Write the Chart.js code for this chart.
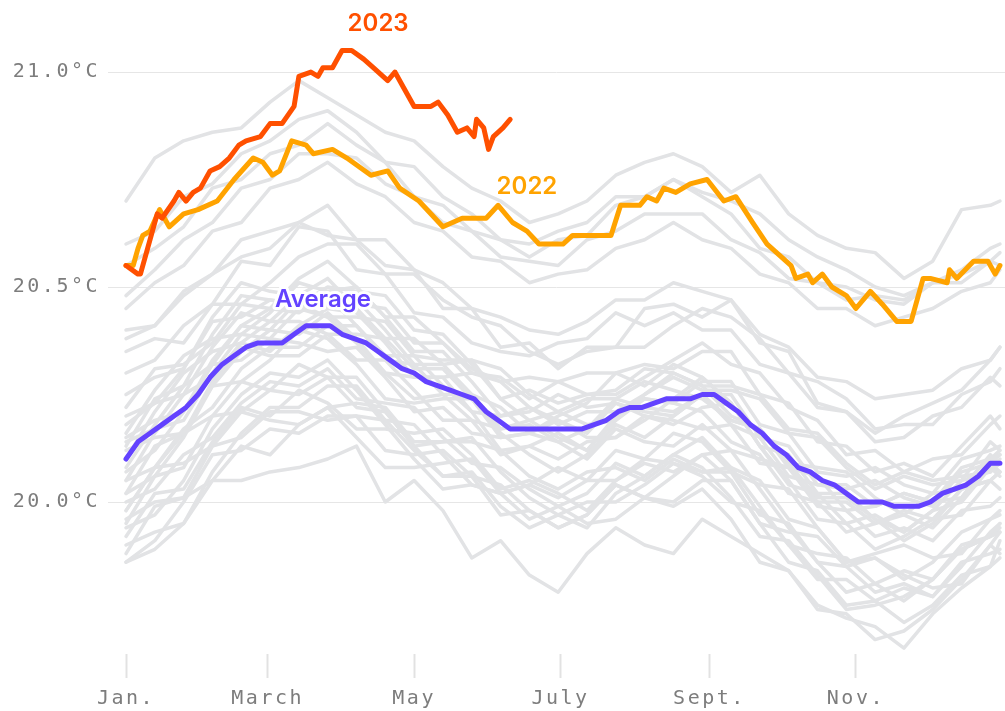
<!DOCTYPE html>
<html>
<head>
<meta charset="utf-8">
<script src="https://cdn.jsdelivr.net/npm/chart.js@4.4.1/dist/chart.umd.min.js"></script>
<style>
    html, body { margin: 0; padding: 0; background: #ffffff; }
    canvas { display: block; }
</style>
</head>
<body>
<canvas id="temperaturaChart" width="1005" height="711"></canvas>
<script>

// day of year for the x axis ticks
const mesesDias = [0, 59, 120, 181, 243, 304];
const mesesNombres = ["Jan.", "March", "May", "July", "Sept.", "Nov."];

const yTicks = [20.0, 20.5, 21.0];

// 2023 so far
const dias2023 = [0, 5, 6, 9, 11, 13, 15, 20, 22, 25, 28, 31, 35, 39, 43, 47, 50, 56, 60, 65,
    70, 72, 77, 80, 82, 86, 89, 90, 94, 99, 103, 109, 112, 115, 120, 127, 130, 134, 138, 142,
    145, 146, 149, 151, 153, 157, 160];
const temp2023 = [20.55, 20.53, 20.53, 20.59, 20.63, 20.67, 20.66, 20.70, 20.72, 20.70,
    20.72, 20.73, 20.77, 20.78, 20.80, 20.83, 20.84, 20.85, 20.88, 20.88,
    20.92, 20.99, 21.00, 20.99, 21.01, 21.01, 21.04, 21.05, 21.05, 21.03,
    21.01, 20.98, 21.00, 20.97, 20.92, 20.92, 20.93, 20.90, 20.86, 20.87,
    20.85, 20.89, 20.87, 20.82, 20.85, 20.87, 20.89];

// 2022
const dias2022 = [0, 3, 5, 7, 10, 14, 18, 24, 30, 38, 45, 53, 57, 61, 64, 69, 75, 78, 86, 92,
    102, 109, 114, 122, 132, 140, 150, 155, 161, 167, 172, 182, 186, 202, 206, 214, 217, 221, 224, 229,
    235, 242, 249, 254, 261, 267, 277, 279, 284, 286, 290, 294, 300, 304, 310, 315, 321, 327, 332, 335,
    342, 343, 346, 353, 359, 362, 364];
const temp2022 = [20.55, 20.55, 20.59, 20.62, 20.63, 20.68, 20.64, 20.67, 20.68, 20.70,
    20.75, 20.80, 20.79, 20.76, 20.77, 20.84, 20.83, 20.81, 20.82, 20.80,
    20.76, 20.77, 20.73, 20.70, 20.64, 20.66, 20.66, 20.69, 20.65, 20.63,
    20.60, 20.60, 20.62, 20.62, 20.69, 20.69, 20.71, 20.70, 20.73, 20.72,
    20.74, 20.75, 20.70, 20.71, 20.65, 20.60, 20.55, 20.52, 20.53, 20.51,
    20.53, 20.50, 20.48, 20.45, 20.49, 20.46, 20.42, 20.42, 20.52, 20.52,
    20.51, 20.54, 20.52, 20.56, 20.56, 20.53, 20.55];

// average
const diasPromedio = [0, 5, 10, 15, 20, 25, 30, 35, 40, 45, 50, 55, 60, 65, 70, 75, 80, 85, 90, 95,
    100, 105, 110, 115, 120, 125, 130, 135, 140, 145, 150, 155, 160, 165, 170, 175, 180, 185, 190, 195,
    200, 205, 210, 215, 220, 225, 230, 235, 240, 245, 250, 255, 260, 265, 270, 275, 280, 285, 290, 295,
    300, 305, 310, 315, 320, 325, 330, 335, 340, 345, 350, 355, 360, 364];
const tempPromedio = [20.10, 20.14, 20.16, 20.18, 20.20, 20.22, 20.25, 20.29, 20.32, 20.34,
    20.36, 20.37, 20.37, 20.37, 20.39, 20.41, 20.41, 20.41, 20.39, 20.38,
    20.37, 20.35, 20.33, 20.31, 20.30, 20.28, 20.27, 20.26, 20.25, 20.24,
    20.21, 20.19, 20.17, 20.17, 20.17, 20.17, 20.17, 20.17, 20.17, 20.18,
    20.19, 20.21, 20.22, 20.22, 20.23, 20.24, 20.24, 20.24, 20.25, 20.25,
    20.23, 20.21, 20.18, 20.16, 20.13, 20.11, 20.08, 20.07, 20.05, 20.04,
    20.02, 20.00, 20.00, 20.00, 19.99, 19.99, 19.99, 20.00, 20.02, 20.03,
    20.04, 20.06, 20.09, 20.09];

// earlier years (grey), sampled every 12 days
const diasGris = [0, 12, 24, 36, 48, 60, 72, 84, 96, 108, 120, 132, 144, 156, 168, 180,
    192, 204, 216, 228, 240, 252, 264, 276, 288, 300, 312, 324, 336, 348, 360, 364];

const aniosGris = [
    [20.70, 20.80, 20.84, 20.86, 20.87, 20.93, 20.98, 20.94, 20.90, 20.86, 20.84, 20.78, 20.73, 20.70, 20.65, 20.67, 20.70, 20.76, 20.79, 20.81, 20.78, 20.72, 20.76, 20.67, 20.62, 20.59, 20.58, 20.52, 20.56, 20.68, 20.69, 20.70],
    [20.60, 20.63, 20.71, 20.74, 20.81, 20.84, 20.89, 20.91, 20.86, 20.79, 20.78, 20.71, 20.67, 20.61, 20.60, 20.63, 20.65, 20.71, 20.71, 20.75, 20.72, 20.70, 20.67, 20.61, 20.57, 20.54, 20.50, 20.48, 20.51, 20.53, 20.56, 20.58],
    [20.55, 20.59, 20.64, 20.73, 20.75, 20.81, 20.83, 20.88, 20.83, 20.79, 20.71, 20.69, 20.63, 20.61, 20.57, 20.61, 20.62, 20.69, 20.71, 20.75, 20.71, 20.67, 20.59, 20.57, 20.51, 20.50, 20.47, 20.46, 20.51, 20.54, 20.59, 20.60],
    [20.48, 20.54, 20.61, 20.65, 20.73, 20.75, 20.81, 20.81, 20.80, 20.74, 20.71, 20.65, 20.63, 20.57, 20.56, 20.55, 20.61, 20.63, 20.67, 20.67, 20.67, 20.61, 20.58, 20.52, 20.51, 20.47, 20.48, 20.47, 20.51, 20.51, 20.56, 20.55],
    [20.45, 20.51, 20.55, 20.63, 20.65, 20.73, 20.75, 20.79, 20.74, 20.71, 20.65, 20.63, 20.57, 20.56, 20.51, 20.53, 20.54, 20.59, 20.61, 20.65, 20.61, 20.59, 20.53, 20.51, 20.45, 20.45, 20.41, 20.43, 20.45, 20.49, 20.51, 20.54],
    [20.38, 20.41, 20.48, 20.53, 20.61, 20.63, 20.65, 20.69, 20.61, 20.61, 20.54, 20.51, 20.45, 20.43, 20.40, 20.39, 20.42, 20.47, 20.47, 20.51, 20.49, 20.47, 20.39, 20.36, 20.29, 20.28, 20.24, 20.25, 20.26, 20.31, 20.33, 20.36],
    [20.40, 20.41, 20.49, 20.53, 20.57, 20.59, 20.65, 20.62, 20.61, 20.55, 20.54, 20.45, 20.45, 20.36, 20.37, 20.31, 20.36, 20.36, 20.45, 20.46, 20.43, 20.47, 20.37, 20.35, 20.23, 20.21, 20.16, 20.20, 20.23, 20.26, 20.33, 20.36],
    [20.35, 20.38, 20.37, 20.46, 20.46, 20.51, 20.57, 20.60, 20.60, 20.53, 20.53, 20.47, 20.43, 20.41, 20.35, 20.32, 20.35, 20.36, 20.36, 20.41, 20.45, 20.43, 20.38, 20.30, 20.28, 20.24, 20.17, 20.18, 20.18, 20.25, 20.28, 20.31],
    [20.30, 20.33, 20.41, 20.46, 20.56, 20.55, 20.64, 20.63, 20.54, 20.53, 20.44, 20.43, 20.37, 20.35, 20.34, 20.37, 20.38, 20.44, 20.41, 20.44, 20.40, 20.40, 20.32, 20.30, 20.22, 20.21, 20.14, 20.15, 20.20, 20.22, 20.29, 20.27],
    [20.18, 20.23, 20.31, 20.42, 20.43, 20.47, 20.46, 20.50, 20.49, 20.48, 20.40, 20.39, 20.32, 20.24, 20.26, 20.23, 20.25, 20.25, 20.29, 20.33, 20.37, 20.32, 20.30, 20.22, 20.19, 20.11, 20.12, 20.07, 20.10, 20.11, 20.18, 20.20],
    [20.15, 20.19, 20.21, 20.33, 20.41, 20.45, 20.44, 20.48, 20.41, 20.34, 20.34, 20.33, 20.33, 20.24, 20.19, 20.21, 20.18, 20.19, 20.25, 20.29, 20.26, 20.26, 20.24, 20.16, 20.15, 20.08, 20.03, 20.06, 20.04, 20.05, 20.14, 20.12],
    [20.10, 20.21, 20.30, 20.35, 20.37, 20.35, 20.41, 20.45, 20.44, 20.37, 20.29, 20.29, 20.21, 20.20, 20.21, 20.25, 20.22, 20.23, 20.21, 20.20, 20.25, 20.25, 20.15, 20.13, 20.04, 20.03, 20.05, 20.01, 19.99, 20.07, 20.09, 20.11],
    [20.07, 20.12, 20.21, 20.32, 20.33, 20.38, 20.45, 20.43, 20.37, 20.30, 20.24, 20.25, 20.25, 20.22, 20.16, 20.14, 20.17, 20.24, 20.28, 20.26, 20.24, 20.19, 20.17, 20.09, 20.01, 20.01, 19.96, 19.93, 19.98, 20.00, 20.08, 20.06],
    [20.22, 20.31, 20.32, 20.37, 20.46, 20.45, 20.52, 20.56, 20.50, 20.43, 20.43, 20.37, 20.31, 20.28, 20.29, 20.28, 20.30, 20.30, 20.32, 20.31, 20.35, 20.35, 20.25, 20.23, 20.14, 20.13, 20.07, 20.09, 20.06, 20.13, 20.20, 20.17],
    [20.02, 20.13, 20.16, 20.28, 20.36, 20.34, 20.34, 20.39, 20.33, 20.33, 20.32, 20.25, 20.19, 20.11, 20.13, 20.10, 20.14, 20.15, 20.20, 20.19, 20.17, 20.18, 20.09, 20.08, 20.00, 20.00, 19.95, 19.98, 19.96, 19.97, 20.05, 20.03],
    [20.13, 20.24, 20.27, 20.39, 20.48, 20.47, 20.46, 20.43, 20.43, 20.42, 20.34, 20.27, 20.21, 20.12, 20.13, 20.16, 20.12, 20.19, 20.24, 20.23, 20.28, 20.28, 20.18, 20.16, 20.07, 20.06, 20.08, 20.04, 20.02, 20.10, 20.12, 20.13],
    [19.98, 20.08, 20.17, 20.22, 20.31, 20.36, 20.36, 20.41, 20.41, 20.33, 20.26, 20.19, 20.19, 20.17, 20.18, 20.14, 20.10, 20.17, 20.14, 20.13, 20.18, 20.12, 20.10, 20.08, 19.99, 19.98, 19.92, 19.94, 19.91, 19.98, 19.99, 20.01],
    [20.20, 20.23, 20.25, 20.29, 20.37, 20.42, 20.42, 20.39, 20.39, 20.38, 20.38, 20.32, 20.33, 20.31, 20.25, 20.21, 20.24, 20.24, 20.22, 20.21, 20.25, 20.18, 20.15, 20.06, 20.04, 20.04, 19.99, 20.02, 20.00, 20.01, 20.10, 20.11],
    [20.05, 20.16, 20.25, 20.36, 20.44, 20.42, 20.48, 20.52, 20.45, 20.38, 20.31, 20.31, 20.24, 20.16, 20.11, 20.07, 20.11, 20.18, 20.15, 20.20, 20.25, 20.19, 20.17, 20.09, 20.08, 20.07, 20.01, 19.97, 20.02, 20.03, 20.05, 20.07],
    [20.12, 20.15, 20.16, 20.27, 20.28, 20.33, 20.40, 20.38, 20.32, 20.24, 20.23, 20.24, 20.24, 20.15, 20.16, 20.20, 20.23, 20.30, 20.27, 20.32, 20.29, 20.23, 20.13, 20.11, 20.02, 19.95, 19.97, 19.93, 19.98, 20.05, 20.07, 20.09],
    [20.25, 20.29, 20.31, 20.43, 20.51, 20.49, 20.48, 20.46, 20.47, 20.40, 20.32, 20.32, 20.25, 20.17, 20.19, 20.15, 20.12, 20.20, 20.24, 20.23, 20.21, 20.14, 20.11, 20.02, 20.00, 19.93, 19.95, 19.97, 19.94, 20.01, 20.09, 20.07],
    [19.95, 20.06, 20.15, 20.27, 20.35, 20.40, 20.47, 20.45, 20.46, 20.45, 20.37, 20.37, 20.30, 20.28, 20.22, 20.18, 20.21, 20.21, 20.25, 20.30, 20.27, 20.27, 20.25, 20.17, 20.16, 20.09, 20.04, 20.07, 20.05, 20.06, 20.07, 20.10],
    [20.16, 20.26, 20.34, 20.38, 20.39, 20.38, 20.37, 20.35, 20.36, 20.29, 20.21, 20.22, 20.16, 20.15, 20.16, 20.19, 20.15, 20.15, 20.19, 20.24, 20.29, 20.23, 20.13, 20.05, 19.96, 19.95, 19.89, 19.92, 19.96, 20.03, 20.11, 20.09],
    [20.08, 20.18, 20.27, 20.32, 20.41, 20.40, 20.39, 20.44, 20.38, 20.30, 20.29, 20.29, 20.30, 20.29, 20.24, 20.28, 20.25, 20.26, 20.31, 20.30, 20.27, 20.20, 20.17, 20.08, 20.06, 19.98, 19.99, 20.02, 20.00, 20.08, 20.10, 20.12],
    [20.14, 20.17, 20.19, 20.30, 20.39, 20.44, 20.51, 20.49, 20.50, 20.43, 20.35, 20.35, 20.28, 20.20, 20.22, 20.19, 20.16, 20.23, 20.20, 20.18, 20.22, 20.23, 20.13, 20.04, 20.02, 20.02, 19.96, 19.91, 19.95, 20.03, 20.05, 20.07],
    [20.00, 20.03, 20.11, 20.15, 20.23, 20.28, 20.27, 20.31, 20.24, 20.23, 20.22, 20.15, 20.09, 20.08, 20.03, 19.99, 20.02, 20.09, 20.06, 20.11, 20.15, 20.08, 20.05, 19.96, 19.94, 19.86, 19.87, 19.82, 19.86, 19.93, 19.96, 19.97],
    [19.92, 20.02, 20.03, 20.14, 20.22, 20.20, 20.26, 20.23, 20.17, 20.17, 20.16, 20.17, 20.11, 20.03, 20.05, 20.02, 19.98, 20.05, 20.10, 20.09, 20.07, 20.08, 19.99, 19.90, 19.88, 19.87, 19.81, 19.77, 19.82, 19.89, 19.92, 19.93],
    [19.88, 19.99, 20.01, 20.13, 20.15, 20.21, 20.21, 20.19, 20.20, 20.19, 20.12, 20.06, 20.07, 19.99, 19.94, 19.97, 20.00, 20.00, 20.04, 20.09, 20.06, 20.00, 19.98, 19.90, 19.82, 19.82, 19.77, 19.80, 19.78, 19.86, 19.88, 19.89],
    [19.86, 19.89, 19.95, 20.05, 20.05, 20.07, 20.08, 20.10, 20.13, 20.00, 20.05, 19.98, 19.87, 19.91, 19.83, 19.79, 19.88, 19.94, 19.90, 19.88, 19.96, 19.92, 19.88, 19.84, 19.76, 19.73, 19.71, 19.66, 19.74, 19.80, 19.85, 19.91],
    [19.86, 19.91, 20.00, 20.11, 20.12, 20.17, 20.16, 20.20, 20.20, 20.12, 20.11, 20.12, 20.06, 19.97, 19.98, 19.94, 19.97, 20.04, 20.01, 20.00, 20.05, 20.05, 19.95, 19.86, 19.84, 19.76, 19.77, 19.72, 19.76, 19.83, 19.85, 19.87],
    [20.02, 20.06, 20.08, 20.20, 20.28, 20.26, 20.25, 20.29, 20.29, 20.21, 20.13, 20.14, 20.14, 20.12, 20.06, 20.03, 20.07, 20.08, 20.05, 20.10, 20.07, 20.07, 20.04, 20.03, 19.94, 19.86, 19.88, 19.90, 19.87, 19.88, 19.96, 19.98],
    [19.94, 19.97, 20.05, 20.17, 20.25, 20.30, 20.29, 20.33, 20.26, 20.18, 20.10, 20.03, 20.04, 20.02, 20.04, 20.01, 20.05, 20.12, 20.10, 20.16, 20.14, 20.07, 19.97, 19.95, 19.86, 19.79, 19.81, 19.84, 19.82, 19.90, 19.92, 19.94],
    [19.98, 20.08, 20.09, 20.13, 20.21, 20.19, 20.18, 20.22, 20.15, 20.08, 20.08, 20.09, 20.10, 20.02, 20.04, 20.08, 20.05, 20.05, 20.09, 20.07, 20.11, 20.12, 20.03, 19.94, 19.86, 19.85, 19.79, 19.81, 19.78, 19.85, 19.93, 19.95],
    [19.90, 19.93, 19.95, 20.07, 20.16, 20.22, 20.22, 20.27, 20.27, 20.19, 20.18, 20.11, 20.04, 20.02, 19.96, 19.99, 19.95, 19.96, 20.01, 20.06, 20.11, 20.05, 19.95, 19.93, 19.92, 19.85, 19.87, 19.83, 19.80, 19.81, 19.90, 19.88],
    [20.05, 20.08, 20.16, 20.20, 20.21, 20.26, 20.32, 20.29, 20.22, 20.21, 20.13, 20.06, 20.06, 20.04, 19.98, 19.94, 19.97, 20.04, 20.01, 19.99, 20.03, 19.96, 19.86, 19.84, 19.75, 19.74, 19.68, 19.70, 19.75, 19.82, 19.90, 19.93],
    [19.96, 20.00, 20.01, 20.05, 20.13, 20.11, 20.18, 20.22, 20.23, 20.22, 20.14, 20.14, 20.15, 20.07, 20.01, 19.97, 19.94, 20.02, 20.06, 20.11, 20.08, 20.01, 19.92, 19.91, 19.83, 19.75, 19.76, 19.78, 19.82, 19.89, 19.92, 19.95]
];


const color2023 = "#ff5000";
const color2022 = "#ffa300";
const colorPromedio = "#6342ff";
const colorGris = "#e2e3e5";

const fuenteEjes = "'DejaVu Sans Mono', monospace";
const fuenteEtiquetas = "Inter, 'Noto Sans', sans-serif";


function puntos(dias, temps) {
    return temps.map((t, i) => ({ x: dias[i], y: t }));
}


// texto de las series (2023, 2022, Average) con halo blanco
const etiquetasPlugin = {
    id: "etiquetas",
    beforeDraw(chart) {
        chart.ctx.letterSpacing = "2.5px";
    },
    afterDatasetsDraw(chart) {

        const ctx = chart.ctx;
        const x = chart.scales.x;
        const y = chart.scales.y;

        const etiquetas = [
            { texto: "2023", dia: 105, temp: 21.112, color: color2023 },
            { texto: "2022", dia: 167, temp: 20.733, color: color2022 },
            { texto: "Average", dia: 82, temp: 20.47, color: colorPromedio }
        ];

        ctx.save();
        ctx.letterSpacing = "0px";
        ctx.font = "600 24px " + fuenteEtiquetas;
        ctx.textAlign = "center";
        ctx.textBaseline = "middle";
        ctx.lineJoin = "round";

        etiquetas.forEach(e => {

            const px = x.getPixelForValue(e.dia);
            const py = y.getPixelForValue(e.temp);

            ctx.strokeStyle = "#ffffff";
            ctx.lineWidth = 6;
            ctx.strokeText(e.texto, px, py);

            ctx.fillStyle = e.color;
            ctx.fillText(e.texto, px, py);
        });

        ctx.restore();
    },
    afterDraw(chart) {
        chart.ctx.letterSpacing = "0px";
    }
};


const datasets = [

    {
        label: "2023",
        data: puntos(dias2023, temp2023),
        borderColor: color2023,
        borderWidth: 5,
        order: 0
    },

    {
        label: "2022",
        data: puntos(dias2022, temp2022),
        borderColor: color2022,
        borderWidth: 5,
        order: 1
    },

    {
        label: "Average",
        data: puntos(diasPromedio, tempPromedio),
        borderColor: colorPromedio,
        borderWidth: 5,
        order: 2
    }
];

aniosGris.forEach((temps, i) => {
    datasets.push({
        label: "gris" + i,
        data: puntos(diasGris, temps),
        borderColor: colorGris,
        borderWidth: 3.5,
        order: 3
    });
});


new Chart(document.getElementById("temperaturaChart"), {

    type: "line",

    data: {
        datasets: datasets
    },

    options: {

        responsive: false,
        animation: false,
        devicePixelRatio: 1,

        layout: {
            padding: { top: 10, right: 0, bottom: 0, left: 0 }
        },

        elements: {
            point: { radius: 0 },
            line: { tension: 0, borderJoinStyle: "round", borderCapStyle: "round" }
        },

        plugins: {
            legend: { display: false },
            tooltip: { enabled: false }
        },

        scales: {

            x: {
                type: "linear",
                min: -7.5,
                max: 366.1,
                afterBuildTicks: s => {
                    s.ticks = mesesDias.map(v => ({ value: v }));
                },
                afterFit: s => {
                    s.height = 57;
                },
                border: { display: false },
                grid: {
                    drawOnChartArea: false,
                    drawTicks: true,
                    tickLength: 24,
                    tickWidth: 2,
                    tickColor: "#e2e2e2"
                },
                ticks: {
                    autoSkip: false,
                    maxRotation: 0,
                    padding: 9,
                    color: "#7d7d7d",
                    font: { family: fuenteEjes, size: 20 },
                    callback: v => mesesNombres[mesesDias.indexOf(v)]
                }
            },

            y: {
                min: 19.6465,
                max: 21.121,
                afterBuildTicks: s => {
                    s.ticks = yTicks.map(v => ({ value: v }));
                },
                afterFit: s => {
                    s.width = 108;
                },
                border: { display: false },
                grid: {
                    color: "#e6e6e6",
                    lineWidth: 1,
                    drawTicks: false
                },
                ticks: {
                    padding: 8,
                    color: "#7d7d7d",
                    font: { family: fuenteEjes, size: 20 },
                    callback: v => v.toFixed(1) + "°C"
                }
            }
        }
    },

    plugins: [etiquetasPlugin]
});

</script>
</body>
</html>
